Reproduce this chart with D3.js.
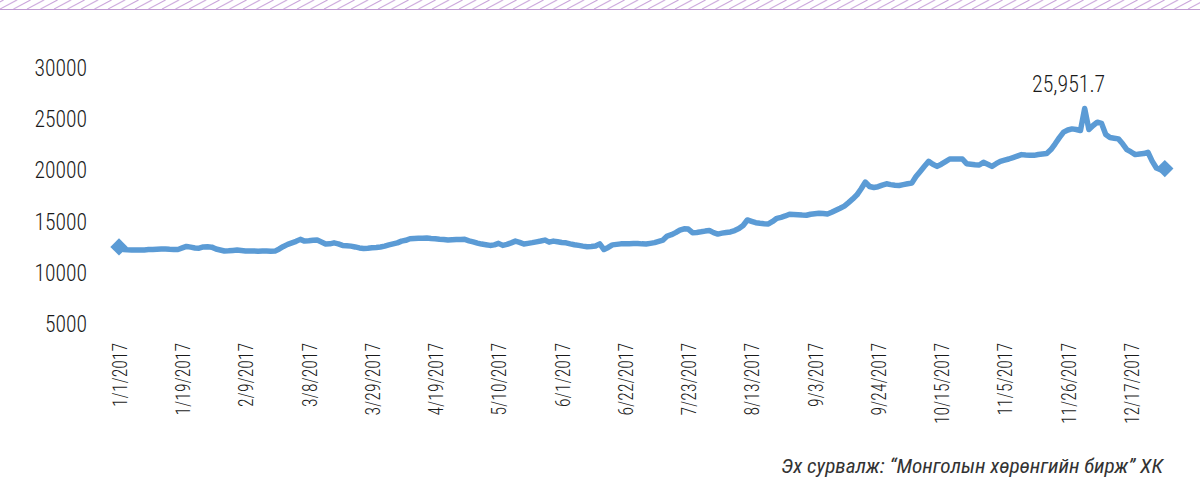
<!DOCTYPE html>
<html>
<head>
<meta charset="utf-8">
<script src="https://cdn.jsdelivr.net/npm/d3@7"></script>
<style>
  html, body { margin: 0; padding: 0; background: #fff; }
  svg { display: block; }
  .lbl { font-family: "Roboto Condensed", "Roboto", sans-serif; font-weight: 300; fill: #1a1a1a; }
</style>
</head>
<body>
<svg id="chart" width="1200" height="502"></svg>
<script>
// ---- data ----
const tickLabels = ["1/1/2017","1/19/2017","2/9/2017","3/8/2017","3/29/2017","4/19/2017","5/10/2017","6/1/2017","6/22/2017","7/23/2017","8/13/2017","9/3/2017","9/24/2017","10/15/2017","11/5/2017","11/26/2017","12/17/2017"];
const tickStep = 15; // label every 15th trading day
const yTicks = [5000, 10000, 15000, 20000, 25000, 30000];
const values = [
  12400, 12150, 12120, 12100, 12090, 12090, 12110, 12140, 12160, 12180,
  12200, 12190, 12170, 12160, 12150, 12300, 12450, 12380, 12300, 12280,
  12400, 12410, 12380, 12200, 12100, 12000, 12020, 12060, 12090, 12050,
  12010, 11990, 12000, 11980, 11990, 11990, 11980, 11990, 12200, 12450,
  12650, 12800, 12950, 13140, 12970, 13000, 13050, 13070, 12880, 12680,
  12700, 12800, 12700, 12550, 12520, 12480, 12400, 12300, 12250, 12280,
  12320, 12350, 12400, 12480, 12600, 12700, 12800, 12970, 13050, 13200,
  13220, 13240, 13250, 13270, 13230, 13200, 13150, 13120, 13070, 13100,
  13120, 13130, 13140, 13000, 12900, 12780, 12680, 12620, 12550, 12600,
  12750, 12550, 12650, 12800, 12970, 12850, 12680, 12750, 12820, 12900,
  12980, 13070, 12870, 12970, 12900, 12830, 12800, 12700, 12620, 12550,
  12480, 12420, 12450, 12500, 12700, 12150, 12350, 12600, 12650, 12700,
  12710, 12720, 12730, 12730, 12700, 12680, 12750, 12820, 12950, 13070,
  13470, 13600, 13800, 14050, 14180, 14150, 13800, 13820, 13880, 13950,
  14000, 13800, 13660, 13750, 13820, 13870, 14000, 14200, 14500, 15040,
  14900, 14770, 14720, 14680, 14650, 14900, 15200, 15300, 15430, 15600,
  15580, 15550, 15520, 15500, 15600, 15650, 15700, 15680, 15630, 15800,
  16000, 16190, 16400, 16740, 17100, 17500, 18100, 18750, 18320, 18220,
  18300, 18450, 18580, 18500, 18450, 18420, 18500, 18580, 18650, 19300,
  19790, 20300, 20780, 20500, 20290, 20500, 20750, 21010, 21000, 21020,
  21010, 20550, 20500, 20450, 20420, 20680, 20500, 20290, 20550, 20780,
  20900, 21010, 21150, 21300, 21440, 21400, 21380, 21370, 21450, 21500,
  21540, 21930, 22500, 23100, 23640, 23850, 23960, 23900, 23800, 25951.7,
  23900, 24290, 24620, 24500, 23410, 23110, 23050, 22980, 22500, 21930,
  21700, 21440, 21500, 21540, 21670, 20800, 20130, 19960, 20070
];
const peakLabel = "25,951.7";
const sourceText = "Эх сурвалж: “Монголын хөрөнгийн бирж” ХК";

// ---- drawing ----
const svg = d3.select("#chart");
const W = 1200;
const lineColor = "#5b9bd5";

// header hatched band
const defs = svg.append("defs");
const pw = 13.5, ph = 9, run = 17;
const pat = defs.append("pattern")
  .attr("id", "hatch").attr("patternUnits", "userSpaceOnUse")
  .attr("width", pw).attr("height", ph);
[-2 * pw, -pw, 0, pw].forEach(x0 => {
  pat.append("line").attr("x1", x0).attr("y1", ph).attr("x2", x0 + run).attr("y2", 0)
    .attr("stroke", "#c9a3da").attr("stroke-width", 1.1);
});
svg.append("rect").attr("x", 0).attr("y", 0).attr("width", W).attr("height", ph).attr("fill", "url(#hatch)");
svg.append("line").attr("x1", 0).attr("x2", W).attr("y1", 9.5).attr("y2", 9.5)
  .attr("stroke", "#c19bd3").attr("stroke-width", 1.2);

const idx = d3.range(values.length);
const x = d3.scalePoint().domain(idx).range([119, 1164.8]);
const y = d3.scaleLinear().domain([5000, 30000]).range([322.5, 67.2]);

// y axis
const yAxis = svg.append("g").attr("transform", "translate(87,0)")
  .call(d3.axisLeft(y).tickValues(yTicks).tickSize(0).tickPadding(0).tickFormat(d3.format("d")));
yAxis.select(".domain").remove();
yAxis.selectAll("text").attr("class", "lbl").attr("font-family", null)
  .style("font-size", "24px").attr("dy", "0.36em")
  .attr("transform", "scale(0.9,1)");

// x axis
const tickIdx = tickLabels.map((d, i) => i * tickStep);
const xAxis = svg.append("g").attr("transform", "translate(0,343)")
  .call(d3.axisBottom(x).tickValues(tickIdx).tickSize(0).tickFormat((d, i) => tickLabels[i]));
xAxis.select(".domain").remove();
xAxis.selectAll("text").attr("class", "lbl").attr("font-family", null)
  .style("font-size", "20.5px")
  .attr("x", 0).attr("y", 0).attr("dy", "0.36em")
  .attr("transform", "rotate(-90) scale(0.86,1)")
  .style("text-anchor", "end");

// line
const line = d3.line().x((d, i) => x(i)).y(d => y(d));
svg.append("path").datum(values)
  .attr("d", line)
  .attr("fill", "none")
  .attr("stroke", lineColor)
  .attr("stroke-width", 5.5)
  .attr("stroke-linejoin", "round")
  .attr("stroke-linecap", "round");

// end markers
const diamond = d3.symbol().type(d3.symbolSquare).size(150);
[0, values.length - 1].forEach(i => {
  svg.append("path").attr("d", diamond())
    .attr("transform", `translate(${x(i)},${y(values[i])}) rotate(45)`)
    .attr("fill", lineColor);
});

// peak annotation
const peakI = values.indexOf(d3.max(values));
svg.append("text").attr("class", "lbl")
  .attr("transform", `translate(${x(peakI) - 16},${y(values[peakI]) - 17}) scale(0.91,1)`)
  .attr("text-anchor", "middle")
  .style("font-size", "24px")
  .text(peakLabel);

// source
svg.append("text").attr("class", "lbl")
  .attr("transform", "translate(1163,473) scale(1.09,1)")
  .attr("text-anchor", "end")
  .style("font-size", "19.5px").style("font-style", "italic").style("font-weight", 400)
  .style("fill", "#333")
  .text(sourceText);
</script>
</body>
</html>
